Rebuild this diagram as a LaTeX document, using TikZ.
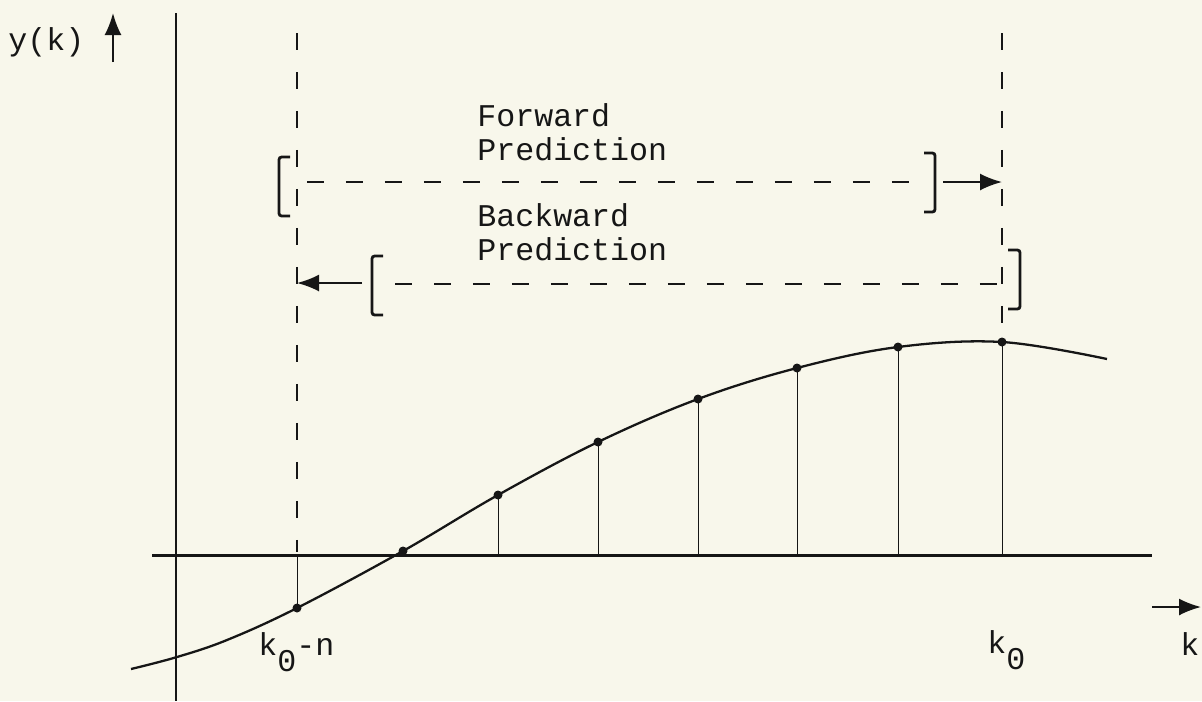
\documentclass[tikz,border=0pt]{standalone}
\usepackage{fontspec}
\newfontfamily\typew{Liberation Mono}
\usepackage{xcolor}
\usetikzlibrary{arrows.meta}
\usetikzlibrary{math}
\definecolor{paper}{RGB}{248,247,235}
\definecolor{ink}{RGB}{22,22,22}

\begin{document}
\begin{tikzpicture}[x=0.02cm, y=-0.02cm,
  txt/.style={font=\typew\fontsize{18}{18.8}\selectfont, inner sep=0pt, text=ink},
  axis/.style={line width=1.7pt, ink},
  curve/.style={line width=1.3pt, ink},
  stem/.style={line width=0.5pt, ink},
  dsh/.style={line width=0.8pt, ink, dash pattern=on 0.34cm off 0.44cm},
  brk/.style={line width=1.6pt, ink, rounded corners=1.5pt},
  arr/.style={-{Latex[length=0.44cm,width=0.34cm]}, line width=1.1pt, ink}]
\tikzmath{
\xo=176;
\yo=555;
}
\useasboundingbox (0,0) rectangle (1202,701);
\fill[paper] (0,0) rectangle (1202,701);

% axes
\coordinate (O) at (\xo,\yo);
\coordinate (xl) at (152,\yo);
\coordinate (xr) at (1152,\yo);
\coordinate (yt) at (\xo,13);
\coordinate (yb) at (\xo,701);
\draw[axis] (xl) -- (xr);
\draw[axis] (yt) -- (yb);

\node[txt, anchor=base west] (ylab) at (8,50) {y(k)};
\coordinate (ya) at (113,62);
\draw[arr] (ya) --+(0,-49);
\node[txt, anchor=base west] (klab) at (1180,655) {k};
\coordinate (ka) at (1152,607);
\draw[arr] (ka) --+(49,0);

% samples
\foreach \i/\px/\py in {0/297/608, 1/403/551, 2/498/495, 3/598/442, 4/698/399, 5/797/368, 6/898/347, 7/1002/342}
  \coordinate (p\i) at (\px,\py);

\draw[curve] plot[smooth, tension=0.6] coordinates {(131,669) (177,657) (227,640) (p0) (p1) (p2) (p3) (p4) (p5) (p6) (p7) (1107,359)};

\draw[stem] (p0) -- (p0 |- O);
\foreach \i in {2,...,7}
  \draw[stem] (p\i) -- (p\i |- O);
\foreach \i in {0,...,7}
  \fill[ink] (p\i) circle[radius=4.5];

\node[txt, anchor=base west] (kn) at (258,655) {k\raisebox{-9.5pt}{0}-n};
\node[txt, anchor=base west] (kz) at (987,653) {k\raisebox{-9.5pt}{0}};

% window limits
\coordinate (t0) at (297,33);
\coordinate (b0) at (297,552);
\coordinate (t1) at (1002,33);
\draw[dsh] (t0) -- (b0);
\draw[dsh] (t1) -- (p7);

% forward prediction
\node[txt, align=left, anchor=base west] (fwd) at (477,160) {Forward\\Prediction};
\coordinate (fl) at (307,182);
\coordinate (fr) at (921,182);
\draw[dsh] (fl) -- (fr);
\draw[brk] (290,157) -- (279,157) -- (279,216) -- (290,216);
\draw[brk] (924,153) -- (935,153) -- (935,212) -- (924,212);
\coordinate (fa) at (943,182);
\draw[arr] (fa) -- (fa -| t1);

% backward prediction
\node[txt, align=left, anchor=base west] (bwd) at (477,260) {Backward\\Prediction};
\coordinate (bl) at (395,284);
\coordinate (br) at (997,284);
\draw[dsh] (bl) -- (br);
\draw[brk] (383,256) -- (372,256) -- (372,315) -- (383,315);
\draw[brk] (1008,250) -- (1020,250) -- (1020,309) -- (1008,309);
\coordinate (ba) at (362,283);
\draw[arr] (ba) -- (ba -| t0);
\end{tikzpicture}
\end{document}
